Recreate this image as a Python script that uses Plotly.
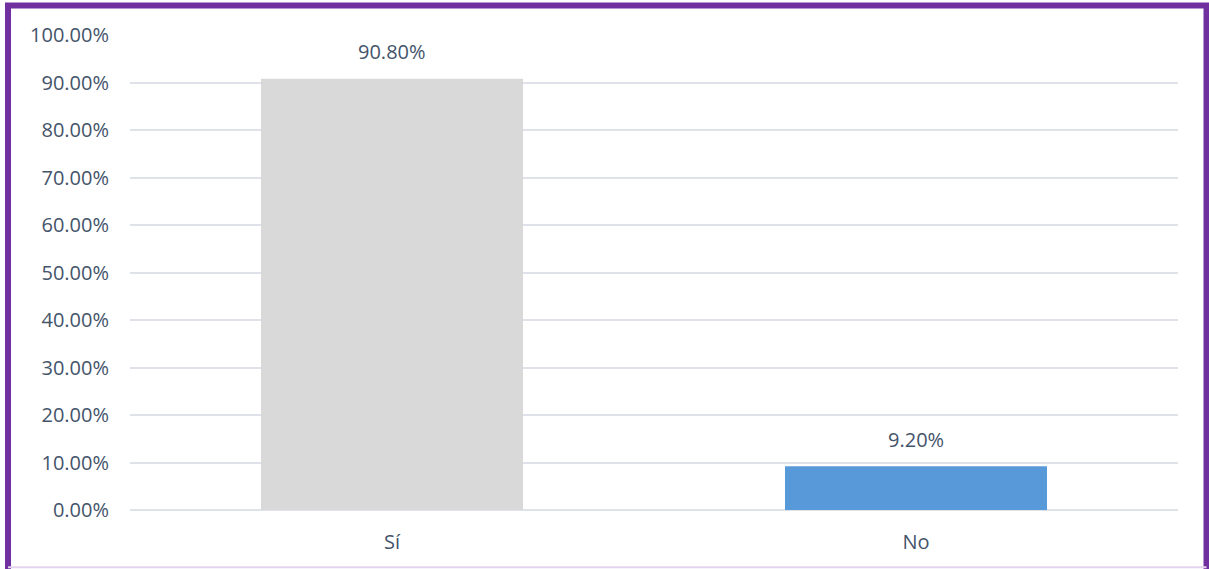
import plotly.graph_objects as go

categories = ["Sí", "No"]
values = [0.908, 0.092]
bar_colors = ["#d9d9d9", "#5899d9"]

text_color = "#44546a"
font_family = "Open Sans, Liberation Sans, sans-serif"

fig = go.Figure()
fig.add_trace(go.Bar(
    x=categories, y=values,
    marker=dict(color=bar_colors, line=dict(width=0)),
    hoverinfo="skip",
))

for c, v in zip(categories, values):
    fig.add_annotation(
        x=c, y=v, text=f"{v*100:.2f}%", showarrow=False,
        yanchor="middle", yshift=27,
        font=dict(size=20, color=text_color, family=font_family),
    )

fig.update_layout(
    width=1209, height=569,
    margin=dict(l=130, r=31, t=35, b=59),
    paper_bgcolor="white", plot_bgcolor="white",
    bargap=0.5, showlegend=False,
    font=dict(family=font_family, size=20, color=text_color),
    xaxis=dict(showline=False, showgrid=False, ticks="", ticklabelstandoff=18,
               tickfont=dict(size=20, color=text_color)),
    yaxis=dict(range=[0, 1], dtick=0.1, tickformat=".2%",
               showgrid=True, gridcolor="#dfe3e9", gridwidth=2,
               zeroline=True, zerolinecolor="#dfe3e9", zerolinewidth=2,
               showline=False, ticks="", ticklabelstandoff=20,
               tickfont=dict(size=20, color=text_color)),
    shapes=[
        dict(type="rect", xref="paper", yref="paper",
             x0=-0.1164, x1=1.0272, y0=-0.1347, y1=1.0621,
             line=dict(color="#7030a0", width=6), layer="above"),
        dict(type="line", xref="paper", yref="paper",
             x0=-0.1164, x1=1.0272, y0=-0.1207, y1=-0.1207,
             line=dict(color="#e4d4ee", width=2), layer="above"),
    ],
)

fig.write_html(
    "out.html",
    config={"displayModeBar": False},
    post_script="document.body.style.margin='0px';document.body.style.overflow='hidden';",
)
